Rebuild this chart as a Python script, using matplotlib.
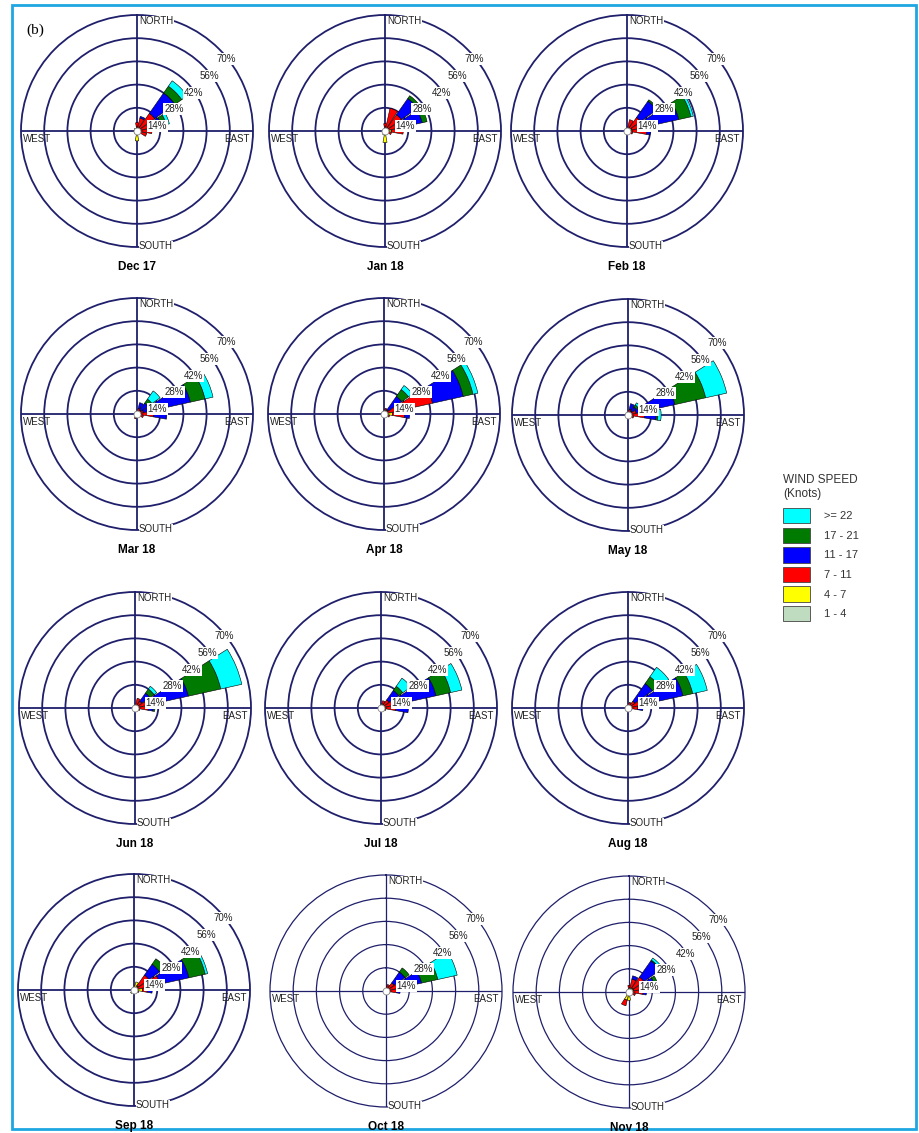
import numpy as np
import matplotlib.pyplot as plt
from matplotlib.patches import Patch, Rectangle

W, H = 919, 1133

DIRS = ["N", "NNE", "NE", "ENE", "E", "ESE", "SE", "SSE",
        "S", "SSW", "SW", "WSW", "W", "WNW", "NW", "NNW"]
CLASSES = ["1 - 4", "4 - 7", "7 - 11", "11 - 17", "17 - 21", ">= 22"]
COLORS = ["#c0dcc0", "#ffff00", "#ff0000", "#0000ff", "#007a00", "#00ffff"]
RINGS = [14, 28, 42, 56, 70]

# percent per speed class (1-4, 4-7, 7-11, 11-17, 17-21, >=22) for each direction
dec17 = {"N": [0.5, 1, 3.5], "NNE": [0.5, 1.5, 6, 1], "NE": [0.5, 1.5, 11, 15, 5, 4],
         "ENE": [0.5, 1.5, 9, 4, 3, 2], "E": [0.5, 1.5, 7], "ESE": [0.5, 1, 4.5],
         "SE": [0.5, 1], "S": [0.5, 5.5], "SSW": [0.5, 1], "SW": [1, 1], "W": [1, 1],
         "WNW": [1, 0.5], "NW": [1, 1], "NNW": [0.5, 1]}
jan18 = {"N": [0.5, 1, 3], "NNE": [0.5, 1.5, 12], "NE": [0.5, 1.5, 10, 12, 2],
         "ENE": [0.5, 1.5, 10, 11, 3], "E": [0.5, 3.5, 7], "ESE": [0.5, 1.5, 2],
         "S": [1, 6], "SSW": [0.5, 2], "SW": [0.5, 1], "W": [0.5, 1], "NW": [0.5, 1]}
feb18 = {"N": [0.5, 1], "NNE": [0.5, 1.5, 5], "NE": [0.5, 1.5, 8, 12, 1],
         "ENE": [0.5, 2.5, 9, 20, 7.5, 1.5], "E": [0.5, 2.5, 9, 2], "ESE": [0.5, 1, 2],
         "S": [0.5, 1.5], "SW": [0.5, 1], "W": [0.5, 1], "NW": [0.5, 1]}
mar18 = {"NNE": [0.5, 1, 2, 3.5], "NE": [0.5, 1, 1.5, 5, 3, 6],
         "ENE": [0.5, 1, 2.5, 29, 9, 5], "E": [0.5, 1.5, 8, 8], "ESE": [0.5, 1, 2.5],
         "SSW": [0.5, 0.5, 2], "W": [0.5, 1], "NW": [0.5, 1]}
apr18 = {"NNE": [0.5, 2, 1], "NE": [0.5, 1.5, 1, 10, 5, 3],
         "ENE": [0.5, 1.5, 28, 19, 6, 3], "E": [0.5, 4.5, 7.5, 3], "ESE": [0.5, 2, 1],
         "S": [0.5, 1], "W": [0.5, 1], "NW": [0.5, 1]}
may18 = {"NNE": [0.5, 1, 2, 3.5], "NE": [0.5, 0.5, 2, 3, 1.5, 1.5],
         "ENE": [0.5, 0.5, 4, 24, 19, 13], "E": [0.5, 1.5, 8, 7, 1, 2],
         "ESE": [0.5, 1, 2], "W": [0.5, 1], "NW": [0.5, 1]}
jun18 = {"NNE": [0.5, 1, 4.5], "NE": [0.5, 1, 3.5, 6, 3, 2],
         "ENE": [0.5, 1, 5.5, 26, 20, 13], "E": [0.5, 1.5, 6, 3, 1],
         "ESE": [0.5, 1, 1.5], "W": [0.5, 1], "NW": [0.5, 1]}
jul18 = {"NNE": [0.5, 2, 2], "NE": [0.5, 1.5, 4, 7, 3, 6],
         "ENE": [0.5, 1.5, 6, 26, 9, 7], "E": [0.5, 2.5, 6, 7.5],
         "ESE": [0.5, 1, 1.5], "W": [0.5, 1], "NW": [0.5, 1]}
aug18 = {"NNE": [0.5, 1, 2], "NE": [0.5, 1.5, 3, 13, 5, 7],
         "ENE": [0.5, 1.5, 7, 25, 6, 9], "E": [0.5, 1.5, 4, 3],
         "ESE": [0.5, 1, 1], "W": [0.5, 1], "NW": [0.5, 1]}
sep18 = {"NNE": [0.5, 4.5], "NE": [0.5, 2.5, 8, 8, 4],
         "ENE": [0.5, 1.5, 14, 18, 10, 1.5], "E": [0.5, 4.5, 3, 3],
         "ESE": [0.5, 1.5, 1], "SW": [0.5, 2], "W": [0.5, 1], "NW": [0.5, 1]}
oct18 = {"NNE": [0.5, 1.5, 2], "NE": [0.5, 1.5, 4, 8, 3],
         "ENE": [0.5, 1.5, 6, 14, 10, 12], "E": [0.5, 2, 4, 2],
         "ESE": [0.5, 1, 1], "W": [0.5, 1], "NW": [0.5, 1]}
nov18 = {"N": [0.5, 1.5, 2], "NNE": [0.5, 2, 5.5, 2], "NE": [1, 2, 8, 12, 0.5, 1.5],
         "ENE": [0.5, 2.5, 9, 4, 2], "E": [0.5, 1.5, 6.5, 2], "ESE": [0.5, 1.5, 2],
         "S": [1, 4], "SSW": [1, 4, 3.5], "SW": [1, 1], "W": [0.5, 1],
         "NW": [0.5, 1], "NNW": [0.5, 1]}

months = ["Dec 17", "Jan 18", "Feb 18", "Mar 18", "Apr 18", "May 18",
          "Jun 18", "Jul 18", "Aug 18", "Sep 18", "Oct 18", "Nov 18"]
data = [dec17, jan18, feb18, mar18, apr18, may18,
        jun18, jul18, aug18, sep18, oct18, nov18]

# rose centres in pixels
centers = [(137, 131), (385, 131), (627, 131),
           (137, 414), (384, 414), (628, 415),
           (135, 708), (381, 708), (628, 708),
           (134, 990), (386, 991), (629, 992)]
R = 116
NAVY = "#1f1f6b"
# ring label positions (compass deg, radius %)
ring_lab_pos = [(76, 12.6), (59, 26), (56, 41), (53, 55), (51, 69.3)]

plt.rcParams["font.family"] = ["Liberation Sans", "DejaVu Sans"]
fig = plt.figure(figsize=(W / 100, H / 100), dpi=100)

for i, ((cx, cy), month, d) in enumerate(zip(centers, months, data)):
    ax = fig.add_axes([(cx - R) / W, 1 - (cy + R) / H, 2 * R / W, 2 * R / H],
                      projection="polar")
    ax.set_theta_zero_location("N")
    ax.set_theta_direction(-1)
    ax.set_axisbelow(True)
    ax.set_ylim(0, 70)
    ax.set_rgrids([14, 28, 42, 56], labels=[])
    ax.set_thetagrids([0, 90, 180, 270], labels=[])
    glw = 0.9 if i >= 10 else 1.3
    ax.grid(color=NAVY, lw=glw)
    ax.spines["polar"].set_color(NAVY)
    ax.spines["polar"].set_linewidth(glw)
    ax.tick_params(length=0)

    for dname, vals in d.items():
        th = np.deg2rad(DIRS.index(dname) * 22.5)
        bottom = 0
        for k, v in enumerate(vals):
            if v > 0:
                ax.bar(th, v, width=np.deg2rad(20), bottom=bottom, color=COLORS[k],
                       edgecolor="black", linewidth=0.4, zorder=2)
            bottom += v
    ax.plot(0, 0, "o", ms=5, mfc="white", mec="#888888", mew=0.6, zorder=3)

    for (ang, rr), lab in zip(ring_lab_pos, RINGS):
        ax.text(np.deg2rad(ang), rr, f"{lab}%", ha="center", va="center", fontsize=7,
                color="#222222", zorder=5,
                bbox=dict(fc="white", ec="none", pad=0.6))
    kw = dict(fontsize=7, color="#222222", transform=ax.transAxes, zorder=5, va="center")
    ax.text(0.5 + 2 / (2 * R), 1 - 6 / (2 * R), "NORTH", ha="left",
            bbox=dict(fc="white", ec="none", pad=0.3), **kw)
    ax.text(0.5 + 2 / (2 * R), 1 / (2 * R), "SOUTH", ha="left",
            bbox=dict(fc="white", ec="none", pad=0.3), **kw)
    ax.text(2 / (2 * R), 0.5 - 8 / (2 * R), "WEST", ha="left", **kw)
    ax.text(1 - 3 / (2 * R), 0.5 - 8 / (2 * R), "EAST", ha="right", **kw)

    fig.text(cx / W, 1 - (cy + 136) / H, month, ha="center", va="center",
             fontsize=8.5, fontweight="bold")

handles = [Patch(fc=c, ec="#444444", lw=0.6) for c in COLORS[::-1]]
leg = fig.legend(handles, CLASSES[::-1], title="WIND SPEED\n(Knots)", loc="upper left",
                 bbox_to_anchor=(774 / W, 1 - 465 / H), frameon=False, fontsize=8,
                 title_fontsize=8.5, alignment="left", handlelength=2.4,
                 handleheight=1.75, labelspacing=0.38, handletextpad=1.3, borderpad=0.3)
for t in leg.get_texts():
    t.set_color("#333333")
leg.get_title().set_color("#333333")
leg._legend_box.sep = 6

fig.text(26 / W, 1 - 30 / H, "(b)", fontsize=11, family="Liberation Serif",
         va="center")
fig.add_artist(Rectangle((12 / W, 4 / H), 904 / W, 1 - 9 / H, transform=fig.transFigure,
                         fill=False, ec="#1ea7e1", lw=2))

fig.savefig("out.png", dpi=100)
